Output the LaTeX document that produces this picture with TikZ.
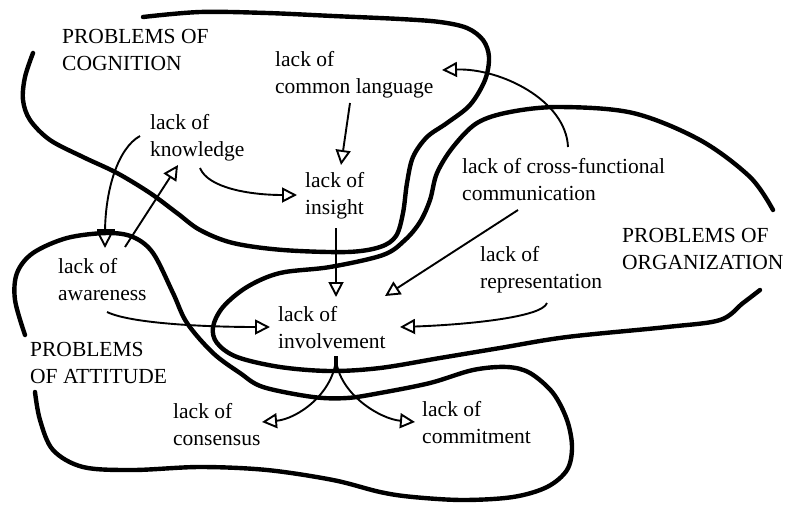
\documentclass[tikz,border=0pt]{standalone}
\usepackage{fontspec}
\setmainfont{Liberation Serif}
\usetikzlibrary{arrows.meta}
\begin{document}
\begin{tikzpicture}[x=1pt,y=-1pt,
  lbl/.style={anchor=base west, align=left, inner sep=0pt, font=\fontsize{21.5}{26.5}\selectfont},
  region/.style={line width=4.4pt, line cap=round, line join=round},
  conn/.style={line width=1.9pt, -{Triangle[open,length=15pt,width=15pt]}},
  stubline/.style={line width=3.4pt}
]
\useasboundingbox (0,0) rectangle (795,504);

% region outlines
\draw[region] plot[smooth, tension=0.55] coordinates {
 (143,17) (200,12) (267,13) (333,16) (400,19) (440,22) (467,28) (483,40)
 (489,57) (485,80) (470,105) (447,123) (427,137) (413,157) (407,183)
 (403,213) (396,236) (380,247) (347,252) (283,250) (233,243) (200,230)
 (177,213) (150,193) (117,173) (83,157) (50,140) (30,120) (23,100) (25,77) (33,53)};

\draw[region] plot[smooth, tension=0.55] coordinates {
 (773,210) (750,177) (700,140) (633,113) (560,107) (510,112) (477,123)
 (453,147) (437,173) (430,200) (420,222) (405,240) (383,255) (330,267)
 (280,273) (247,287) (223,307) (213,327) (217,343) (237,357) (280,367)
 (330,371) (380,368) (440,358) (500,348) (567,337) (667,327) (720,320)
 (743,303) (760,290)};

\draw[region] plot[smooth, tension=0.55] coordinates {
 (25,335) (15,300) (17,273) (33,253) (67,238) (107,233) (133,237) (153,253)
 (173,293) (187,323) (213,353) (240,373) (263,387) (313,397) (347,398)
 (380,393) (430,383) (473,370) (507,367) (530,373) (553,393) (567,420)
 (572,447) (567,470) (547,487) (513,497) (463,500) (413,497) (380,492)
 (333,480) (267,470) (200,467) (133,470) (83,467) (53,450) (40,420) (35,392)};

\fill (97,229) rectangle (115,234);

% labels (anchor = baseline of the last line)
\node[lbl] (cog)   at (62,70)   {PROBLEMS OF\\COGNITION};
\node[lbl] (lang)  at (275,93)  {lack of\\common language};
\node[lbl] (know)  at (150,156) {lack of\\knowledge};
\node[lbl] (ins)   at (305,214) {lack of\\insight};
\node[lbl] (cross) at (462,200) {lack of cross-functional\\communication};
\node[lbl] (rep)   at (480,288) {lack of\\representation};
\node[lbl] (org)   at (622,269) {PROBLEMS OF\\ORGANIZATION};
\node[lbl] (aware) at (58,300)  {lack of\\awareness};
\node[lbl] (inv)   at (278,348) {lack of\\involvement};
\node[lbl] (att)   at (30,383)  {PROBLEMS\\OF ATTITUDE};
\node[lbl] (cons)  at (173,445) {lack of\\consensus};
\node[lbl] (comm)  at (422,443) {lack of\\commitment};

% connectors
\draw[conn] ([shift={(75,10)}]lang.base west) -- ([shift={(36,-49)}]ins.base west);
\draw[conn] ([shift={(50,12)}]know.base west) .. controls +(8,20) and +(-47,0) .. ([shift={(-8,-19)}]ins.base west);
\draw[conn] ([shift={(-10,-20)}]know.base west) .. controls +(-22,12) and +(0,-58) .. ([shift={(47,-52)}]aware.base west);
\draw[conn] ([shift={(67,-53)}]aware.base west) -- ([shift={(28,9)}]know.base west);
\draw[conn] ([shift={(49,12)}]aware.base west) .. controls +(25,12) and +(-60,0) .. ([shift={(-8,-21)}]inv.base west);
\draw[conn] ([shift={(31,14)}]ins.base west) -- ([shift={(58,-51)}]inv.base west);
\draw[conn] ([shift={(106,-53)}]cross.base west) .. controls +(-2,-47) and +(58,-2) .. ([shift={(167,-23)}]lang.base west);
\draw[conn] ([shift={(56,10)}]cross.base west) -- ([shift={(107,-52)}]inv.base west);
\draw[conn] ([shift={(67,15)}]rep.base west) .. controls +(-5,15) and +(60,-2) .. ([shift={(122,-21)}]inv.base west);
\draw[stubline] ([shift={(58,8)}]inv.base west) -- ([shift={(58,24)}]inv.base west);
\draw[conn] ([shift={(58,11)}]inv.base west) .. controls +(-3,35) and +(35,-3) .. ([shift={(89,-23)}]cons.base west);
\draw[conn] ([shift={(58,11)}]inv.base west) .. controls +(3,35) and +(-35,-3) .. ([shift={(-7,-21)}]comm.base west);
\end{tikzpicture}
\end{document}
